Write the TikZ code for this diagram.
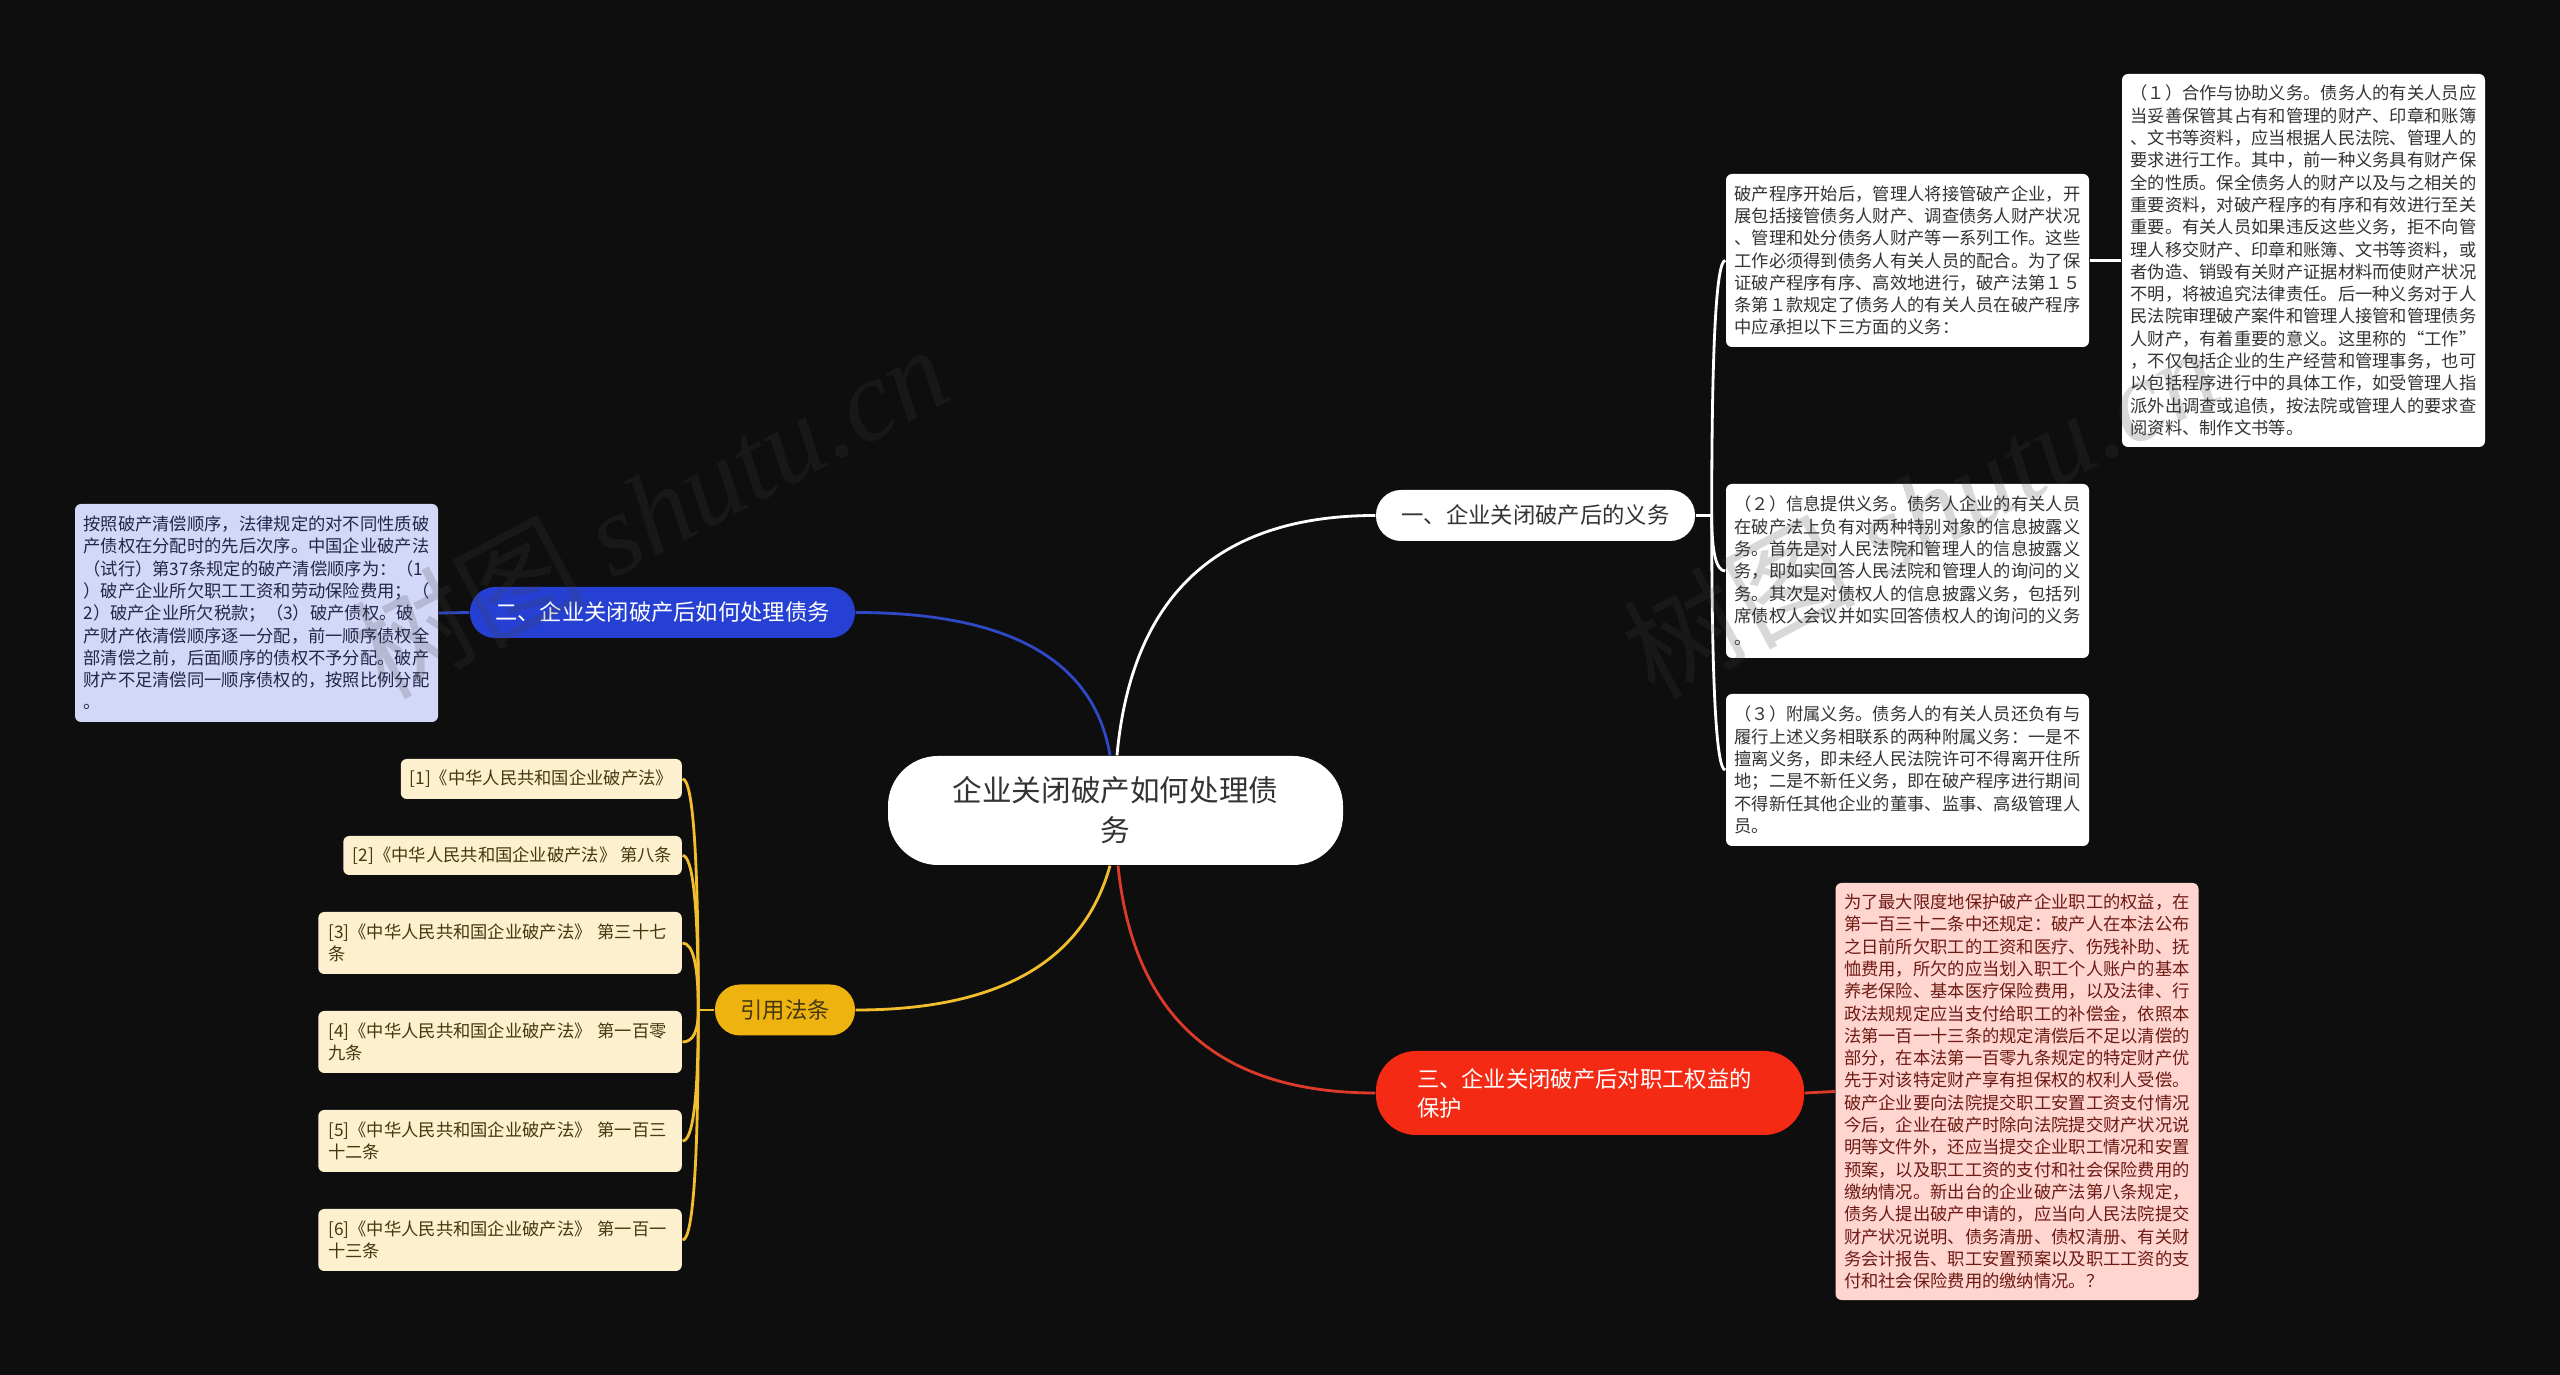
\documentclass[tikz,border=0pt]{standalone}
\usepackage{fontspec}
\usepackage{xcolor}
\usetikzlibrary{calc}
\setmainfont{Noto Sans CJK SC}
\newfontfamily\markfont{Liberation Serif}
\definecolor{pagebg}{HTML}{0E0E0E}
\definecolor{bluefill}{HTML}{2540D2}
\definecolor{blueline}{HTML}{2F48C4}
\definecolor{bluebox}{HTML}{D3D8F8}
\definecolor{bluetext}{HTML}{23264A}
\definecolor{redfill}{HTML}{F42A14}
\definecolor{redline}{HTML}{DE3A2A}
\definecolor{redbox}{HTML}{FFD5D0}
\definecolor{redtext}{HTML}{6E1A14}
\definecolor{goldfill}{HTML}{EFB30F}
\definecolor{goldline}{HTML}{F2BE2E}
\definecolor{goldbox}{HTML}{FDF0CF}
\definecolor{goldtext}{HTML}{44380F}
\definecolor{darktext}{HTML}{333333}
\definecolor{markgrey}{HTML}{404040}
\tikzset{
	centre/.style={fill=white, text=darktext, rounded corners=.5cm, align=center, inner sep=0, font=\fontsize{8.42}{11.38}\selectfont},
	pill/.style={rounded corners=.25cm, align=left, inner sep=0, font=\fontsize{6.35}{8.25}\selectfont},
	leaf/.style={fill=white, text=darktext, rounded corners=.06cm, align=left, inner ysep=0, inner xsep=.085cm, text width=3.46cm, minimum height=#1, font=\fontsize{4.92}{6.345}\selectfont},
	lawleaf/.style={fill=goldbox, text=goldtext, anchor=east, rounded corners=.06cm, align=left, inner ysep=0, inner xsep=.1cm, minimum height=#1, font=\fontsize{4.92}{6.345}\selectfont},
	link/.style={line width=.8pt},
	stamp/.style={rotate=28, text=markgrey, text opacity=.2, font=\fontsize{33}{33}\selectfont}
}
\newcommand{\bendlink}[4]{\draw[link, #1] #2 .. controls ($#2!.667!#3$) and ($#4!.667!#3$) .. #4;}
\begin{document}
\begin{tikzpicture}
	\useasboundingbox[fill=pagebg] (0,0) rectangle (25.6,-13.75);
	\node[centre, minimum width=4.55cm, minimum height=1.09cm] (root) at (11.155,-8.105) {企业关闭破产如何处理债\\务};
	\node[pill, fill=white, text=darktext, minimum width=3.19cm, minimum height=.51cm, align=center] (duty) at (15.355,-5.155) {一、企业关闭破产后的义务};
	\node[pill, fill=bluefill, text=white, minimum width=3.85cm, minimum height=.51cm, align=center] (debt) at (6.625,-6.125) {二、企业关闭破产后如何处理债务};
	\node[pill, fill=redfill, text=white, text width=3.46cm, inner xsep=.41cm, minimum height=.84cm, rounded corners=.4cm] (staff) at (15.9,-10.93) {三、企业关闭破产后对职工权益的\\保护};
	\node[pill, fill=goldfill, text=goldtext, minimum width=1.4cm, minimum height=.51cm, align=center] (law) at (7.85,-10.1) {引用法条};

	\node[leaf=1.73cm] (dutyintro) at (19.075,-2.605) {破产程序开始后，管理人将接管破产企业，开\\展包括接管债务人财产、调查债务人财产状况\\、管理和处分债务人财产等一系列工作。这些\\工作必须得到债务人有关人员的配合。为了保\\证破产程序有序、高效地进行，破产法第１５\\条第１款规定了债务人的有关人员在破产程序\\中应承担以下三方面的义务：};
	\node[leaf=3.73cm] (coop) at (23.035,-2.605) {（１）合作与协助义务。债务人的有关人员应\\当妥善保管其占有和管理的财产、印章和账簿\\、文书等资料，应当根据人民法院、管理人的\\要求进行工作。其中，前一种义务具有财产保\\全的性质。保全债务人的财产以及与之相关的\\重要资料，对破产程序的有序和有效进行至关\\重要。有关人员如果违反这些义务，拒不向管\\理人移交财产、印章和账簿、文书等资料，或\\者伪造、销毁有关财产证据材料而使财产状况\\不明，将被追究法律责任。后一种义务对于人\\民法院审理破产案件和管理人接管和管理债务\\人财产，有着重要的意义。这里称的“工作”\\，不仅包括企业的生产经营和管理事务，也可\\以包括程序进行中的具体工作，如受管理人指\\派外出调查或追债，按法院或管理人的要求查\\阅资料、制作文书等。};
	\node[leaf=1.74cm] (info) at (19.075,-5.71) {（２）信息提供义务。债务人企业的有关人员\\在破产法上负有对两种特别对象的信息披露义\\务。首先是对人民法院和管理人的信息披露义\\务，即如实回答人民法院和管理人的询问的义\\务。其次是对债权人的信息披露义务，包括列\\席债权人会议并如实回答债权人的询问的义务\\。};
	\node[leaf=1.52cm] (attach) at (19.075,-7.7) {（３）附属义务。债务人的有关人员还负有与\\履行上述义务相联系的两种附属义务：一是不\\擅离义务，即未经人民法院许可不得离开住所\\地；二是不新任义务，即在破产程序进行期间\\不得新任其他企业的董事、监事、高级管理人\\员。};
	\node[leaf=4.17cm, fill=redbox, text=redtext] (staffnote) at (20.17,-10.915) {为了最大限度地保护破产企业职工的权益，在\\第一百三十二条中还规定：破产人在本法公布\\之日前所欠职工的工资和医疗、伤残补助、抚\\恤费用，所欠的应当划入职工个人账户的基本\\养老保险、基本医疗保险费用，以及法律、行\\政法规规定应当支付给职工的补偿金，依照本\\法第一百一十三条的规定清偿后不足以清偿的\\部分，在本法第一百零九条规定的特定财产优\\先于对该特定财产享有担保权的权利人受偿。\\破产企业要向法院提交职工安置工资支付情况\\今后，企业在破产时除向法院提交财产状况说\\明等文件外，还应当提交企业职工情况和安置\\预案，以及职工工资的支付和社会保险费用的\\缴纳情况。新出台的企业破产法第八条规定，\\债务人提出破产申请的，应当向人民法院提交\\财产状况说明、债务清册、债权清册、有关财\\务会计报告、职工安置预案以及职工工资的支\\付和社会保险费用的缴纳情况。？};
	\node[leaf=2.18cm, fill=bluebox, text=bluetext] (debtnote) at (2.565,-6.13) {按照破产清偿顺序，法律规定的对不同性质破\\产债权在分配时的先后次序。中国企业破产法\\（试行）第37条规定的破产清偿顺序为：（1\\）破产企业所欠职工工资和劳动保险费用；（\\2）破产企业所欠税款；（3）破产债权。破\\产财产依清偿顺序逐一分配，前一顺序债权全\\部清偿之前，后面顺序的债权不予分配。破产\\财产不足清偿同一顺序债权的，按照比例分配\\。};

	\node[lawleaf=.4cm, minimum width=2.81cm, inner xsep=.05cm] (law1) at (6.825,-7.79) {[1]《中华人民共和国企业破产法》};
	\node[lawleaf=.39cm, minimum width=3.385cm, inner xsep=0] (law2) at (6.825,-8.555) {[2]《中华人民共和国企业破产法》 第八条};
	\node[lawleaf=.62cm, text width=3.435cm] (law3) at (6.825,-9.43) {[3]《中华人民共和国企业破产法》 第三十七\\条};
	\node[lawleaf=.62cm, text width=3.435cm] (law4) at (6.825,-10.42) {[4]《中华人民共和国企业破产法》 第一百零\\九条};
	\node[lawleaf=.62cm, text width=3.435cm] (law5) at (6.825,-11.41) {[5]《中华人民共和国企业破产法》 第一百三\\十二条};
	\node[lawleaf=.62cm, text width=3.435cm] (law6) at (6.825,-12.4) {[6]《中华人民共和国企业破产法》 第一百一\\十三条};

	\bendlink{white}{([xshift=.015cm]root.north)}{(11.39,-5.155)}{(duty.west)}
	\bendlink{blueline}{([xshift=-.055cm]root.north)}{(10.86,-6.125)}{(debt.east)}
	\bendlink{redline}{([xshift=.025cm]root.south)}{(11.41,-10.93)}{(staff.west)}
	\bendlink{goldline}{([xshift=-.055cm]root.south)}{(10.7,-10.1)}{(law.east)}

	\coordinate (dutyspine) at ([xshift=.16cm]duty.east);
	\draw[link, white] (duty.east) -- (dutyspine);
	\foreach \leafname in {dutyintro,info,attach} {
		\bendlink{white}{(dutyspine)}{(dutyspine |- \leafname.west)}{(\leafname.west)}
	}
	\draw[link, white] (dutyintro.east) -- (coop.west);
	\draw[link, redline] (staff.east) -- (staffnote.west);
	\draw[link, blueline] (debt.west) -- (debtnote.east);

	\coordinate (lawspine) at ([xshift=-.16cm]law.west);
	\draw[link, goldline] (law.west) -- (lawspine);
	\foreach \i in {1,...,6} {
		\bendlink{goldline}{(lawspine)}{(lawspine |- law\i.east)}{(law\i.east)}
	}

	\node[stamp] (stampa) at (6.5,-5.1) {树图 {\markfont\itshape shutu.cn}};
	\node[stamp] (stampb) at (19.2,-5.1) {树图 {\markfont\itshape shutu.cn}};
\end{tikzpicture}
\end{document}
